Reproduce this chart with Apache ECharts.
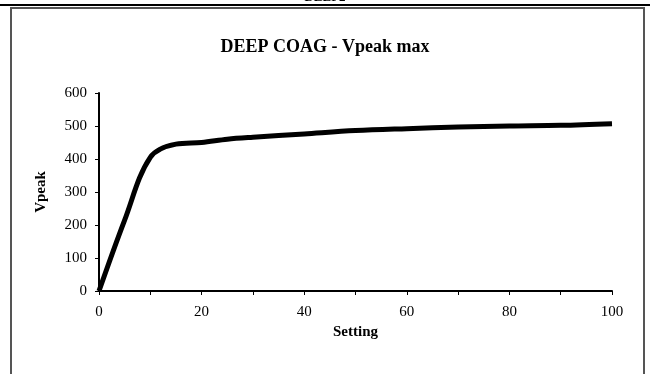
<!DOCTYPE html>
<html>
<head>
<meta charset="utf-8">
<script src="https://cdn.jsdelivr.net/npm/echarts@6/dist/echarts.min.js"></script>
<style>
html,body{margin:0;padding:0;background:#fff;}
#main{width:650px;height:374px;}
</style>
</head>
<body>
<div id="main"></div>
<script>
// 读图得到的数据
var settings = [0, 5, 10, 15, 20, 25, 30, 40, 50, 60, 70, 80, 90, 100];
var vpeak = [0, 215, 405, 445, 450, 460, 466, 476, 486, 492, 497, 500, 502, 507];
var xTicks = [0, 20, 40, 60, 80, 100];
var yTicks = [0, 100, 200, 300, 400, 500, 600];

var font = 'Liberation Serif';
var chart = echarts.init(document.getElementById('main'));

var points = [];
for (var i = 0; i < settings.length; i++) {
	points.push([settings[i], vpeak[i]]);
}

var option = {
	backgroundColor: '#fff',
	animation: false,
	title: {
		text: 'DEEP COAG - Vpeak max',
		left: 'center',
		top: 33,
		textStyle: {color: '#000', fontSize: 18, fontWeight: 'bold', fontFamily: font}
	},
	graphic: [
		{type: 'rect', shape: {x: 0, y: 4, width: 650, height: 2}, style: {fill: '#000'}},
		{type: 'rect', shape: {x: 11, y: 8, width: 633, height: 380}, style: {fill: 'none', stroke: '#555', lineWidth: 2}},
		{type: 'text', x: 325, y: -9, style: {text: 'DEEP2', font: 'bold 13px "Liberation Serif"', fill: '#000', align: 'center', verticalAlign: 'top'}}
	],
	grid: {left: 99, right: 38, top: 93, bottom: 83},
	xAxis: {
		type: 'value',
		min: 0,
		max: 100,
		interval: 10,
		name: 'Setting',
		nameLocation: 'middle',
		nameGap: 34,
		nameTextStyle: {color: '#000', fontSize: 15, fontWeight: 'bold', fontFamily: font},
		axisLine: {lineStyle: {color: '#000', width: 2}},
		axisTick: {show: true, length: 4, lineStyle: {color: '#000', width: 1}},
		axisLabel: {
			color: '#000', fontSize: 15, fontFamily: font, margin: 14,
			formatter: function (v) { return xTicks.indexOf(v) >= 0 ? String(v) : ''; }
		},
		splitLine: {show: false}
	},
	yAxis: {
		type: 'value',
		min: 0,
		max: 600,
		interval: 100,
		name: 'Vpeak',
		nameLocation: 'middle',
		nameGap: 50,
		nameTextStyle: {color: '#000', fontSize: 15, fontWeight: 'bold', fontFamily: font},
		axisLine: {show: true, lineStyle: {color: '#000', width: 2}},
		axisTick: {show: true, length: 4, lineStyle: {color: '#000', width: 1}},
		axisLabel: {
			color: '#000', fontSize: 15, fontFamily: font, margin: 12,
			formatter: function (v) { return yTicks.indexOf(v) >= 0 ? String(v) : ''; }
		},
		splitLine: {show: false}
	},
	series: [{
		name: 'Vpeak',
		type: 'line',
		data: points,
		smooth: 0.35,
		showSymbol: false,
		symbol: 'none',
		lineStyle: {color: '#000', width: 5}
	}]
};
chart.setOption(option);
</script>
</body>
</html>
